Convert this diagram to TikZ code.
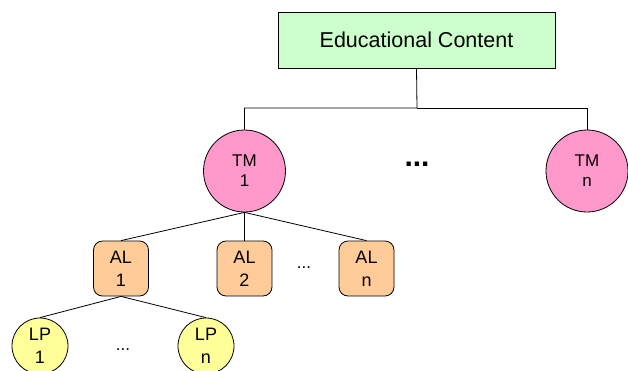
\documentclass[tikz,border=0pt]{standalone}
\usepackage{fontspec}
\setmainfont{Liberation Sans}
\usetikzlibrary{positioning}
\definecolor{ecgreen}{RGB}{204,255,204}
\definecolor{tmpink}{RGB}{255,153,204}
\definecolor{alorange}{RGB}{255,204,153}
\definecolor{lpyellow}{RGB}{255,255,153}

\begin{document}
\begin{tikzpicture}[
  x=1pt, y=-1pt,
  every node/.style={inner sep=0pt, align=center},
  content/.style={draw=black, line width=0.8pt, fill=ecgreen, minimum width=277pt, minimum height=56pt, font=\fontsize{21.5}{24}\selectfont},
  tmcirc/.style={circle, draw=black, line width=0.8pt, fill=tmpink, minimum size=82pt, font=\fontsize{17}{20}\selectfont},
  albox/.style={rounded corners=9pt, draw=black, line width=0.8pt, fill=alorange, minimum size=55pt, font=\fontsize{18}{23}\selectfont},
  lpcirc/.style={circle, draw=black, line width=0.8pt, fill=lpyellow, minimum size=56pt, font=\fontsize{18}{23}\selectfont},
  link/.style={draw=black, line width=0.8pt},
  smalldots/.style={font=\fontsize{17}{20}\selectfont},
]
\useasboundingbox (0,0) rectangle (628,370);

% --- top level ---
\node[content] (ec) at (416.5, 40) {Educational Content};
\coordinate (bus) at (417, 108);

% --- TM level ---
\node[tmcirc] (tm1) at (244.5, 171) {TM\\1};
\node[tmcirc] (tmn) at (587, 171) {TM\\n};
\node[font=\fontsize{30}{30}\selectfont\bfseries] (tmdots) at (417, 164) {...};

\draw[link] (ec.south) -- (bus) -| (tm1.north);
\draw[link] (bus) -| (tmn.north);

% --- AL level ---
\node[albox] (al1) at (121, 268.5) {AL\\1};
\node[albox] (al2) at (244.5, 268.5) {AL\\2};
\node[albox] (aln) at (366.5, 268.5) {AL\\n};
\node[smalldots] (aldots) at (304, 268) {...};

\draw[link] (tm1.south) -- (al1.north);
\draw[link] (tm1.south) -- (al2.north);
\draw[link] (tm1.south) -- (aln.north);

% --- LP level ---
\node[lpcirc] (lp1) at (40, 346) {LP\\1};
\node[lpcirc] (lpn) at (206, 346) {LP\\n};
\node[smalldots] (lpdots) at (123, 350) {...};

\draw[link] (al1.south) -- (lp1.north);
\draw[link] (al1.south) -- (lpn.north);

\end{tikzpicture}
\end{document}
